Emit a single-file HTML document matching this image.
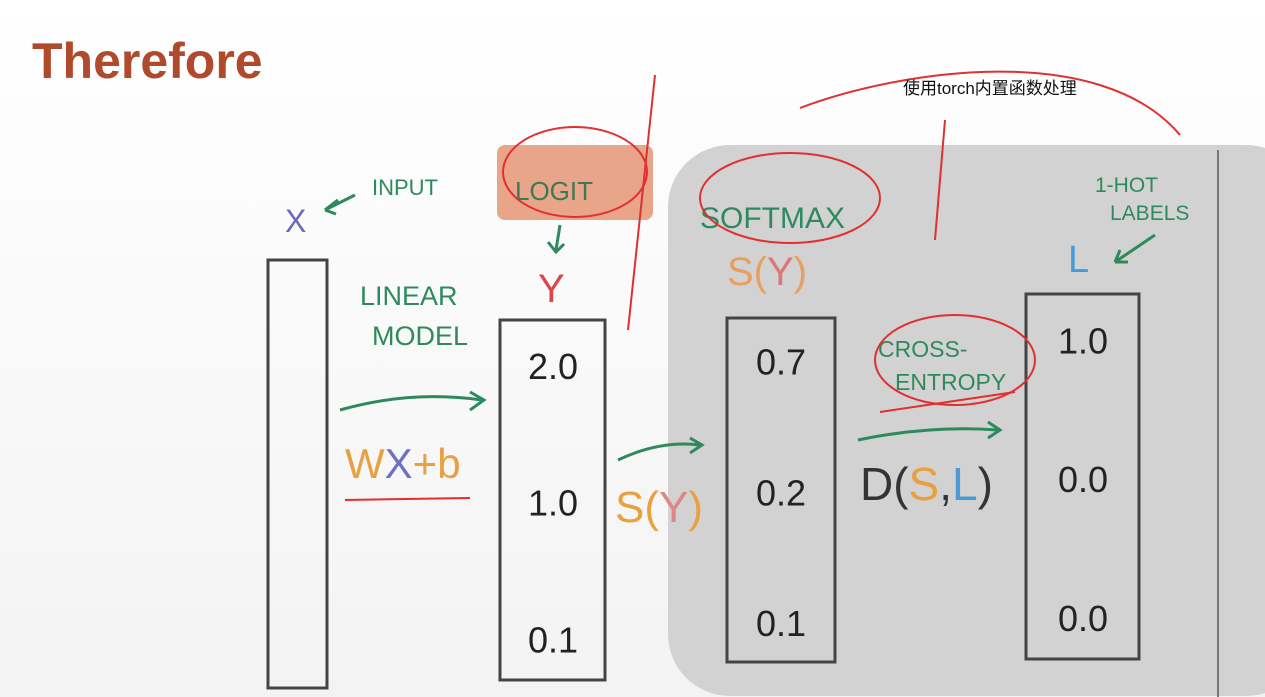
<!DOCTYPE html>
<html><head><meta charset="utf-8"><style>
html,body{margin:0;padding:0;width:1265px;height:697px;overflow:hidden;background:#fff}
svg{display:block;overflow:hidden}
.hw{font-family:"Liberation Sans","DejaVu Sans",sans-serif}
</style></head><body>
<svg id="s" width="1265" height="697" viewBox="0 0 1265 697" xmlns="http://www.w3.org/2000/svg">
<defs><linearGradient id="bg" x1="0" y1="0" x2="0" y2="1"><stop offset="0" stop-color="#ffffff"/><stop offset="1" stop-color="#f3f3f3"/></linearGradient>
<clipPath id="cp"><rect width="1265" height="697"/></clipPath></defs>
<g clip-path="url(#cp)">
<rect width="1265" height="697" fill="url(#bg)"/>
<text x="32" y="78" font-family="Liberation Sans,sans-serif" font-weight="bold" font-size="50" fill="#b04a2c">Therefore</text>
<rect x="668" y="145" width="640" height="551" rx="62" fill="#d2d2d2"/>
<line x1="1218" y1="150" x2="1218" y2="697" stroke="#777" stroke-width="2"/>
<rect x="497" y="145" width="156" height="75" rx="8" fill="#e9a58a"/>
<g fill="none" stroke="#444" stroke-width="3">
<rect x="268" y="260" width="59" height="428"/>
<rect x="500" y="320" width="105" height="360"/>
<rect x="727" y="318" width="108" height="344"/>
<rect x="1026" y="294" width="113" height="365"/>
</g>
<g class="hw" font-size="26" fill="#2e8a5e">
<text x="372" y="195" font-size="22">INPUT</text>
<text x="515" y="200" font-size="26" fill="#3a7a55">LOGIT</text>
<text x="360" y="305" font-size="27">LINEAR</text>
<text x="372" y="345" font-size="27">MODEL</text>
<text x="700" y="228" font-size="30">SOFTMAX</text>
<text x="878" y="357" font-size="23">CROSS-</text>
<text x="895" y="390" font-size="23">ENTROPY</text>
<text x="1095" y="192" font-size="21">1-HOT</text>
<text x="1110" y="220" font-size="21">LABELS</text>
</g>
<text x="285" y="232" class="hw" font-size="32" fill="#6a6ab8">X</text>
<text x="538" y="302" class="hw" font-size="40" fill="#d94848">Y</text>
<text x="727" y="285" class="hw" font-size="40" fill="#e8a060">S(<tspan fill="#d77">Y</tspan>)</text>
<text x="1068" y="272" class="hw" font-size="38" fill="#4a9ad8">L</text>
<text x="345" y="478" class="hw" font-size="42" fill="#e8a040">W<tspan fill="#7070c0">X</tspan>+b</text>
<text x="615" y="522" class="hw" font-size="44" fill="#e8a040">S(<tspan fill="#d88">Y</tspan>)</text>
<text x="860" y="500" class="hw" font-size="46" fill="#333">D(<tspan fill="#e8a040">S</tspan>,<tspan fill="#4a9ad8">L</tspan>)</text>
<g fill="none" stroke="#2e8a5e" stroke-width="3">
<path d="M340 410 Q410 390 482 400 M470 392 L484 400 L470 410"/>
<path d="M618 460 Q660 440 700 445 M690 438 L702 445 L690 453"/>
<path d="M858 440 Q930 425 998 430 M988 422 L1000 430 L988 438"/>
<path d="M325 210 L355 195 M325 210 L338 200 M325 210 L336 214"/>
<path d="M560 225 L556 250 M548 242 L556 252 L564 244"/>
<path d="M1155 235 L1115 262 M1115 262 L1128 262 M1115 262 L1120 250"/>
</g>
<g fill="none" stroke="#e03030" stroke-width="2">
<path d="M655 75 L628 330"/>
<path d="M945 120 L935 240"/>
<path d="M800 108 C900 70 1100 40 1180 135"/>
<ellipse cx="575" cy="172" rx="72" ry="45"/>
<ellipse cx="790" cy="198" rx="90" ry="45"/>
<ellipse cx="955" cy="360" rx="80" ry="45"/>
<path d="M345 500 L470 498 M880 412 L1015 392"/>
</g>
<text x="903" y="94" font-family="Liberation Sans,'Noto Sans CJK SC',sans-serif" font-size="17" fill="#111">使用torch内置函数处理</text>
<g id="vals" class="hw" fill="#222" font-size="36"></g>
</g>
<script>
const logits = [2.0, 1.0, 0.1];
const softmaxVals = [0.7, 0.2, 0.1];
const labels = [1.0, 0.0, 0.0];
function rowY(i, top, bottom){ return top + (bottom - top) * (0.13 + i * 0.38); }
const g = document.getElementById('vals');
function put(arr, cx, top, bottom){
  arr.forEach((v,i)=>{
    const t = document.createElementNS('http://www.w3.org/2000/svg','text');
    t.setAttribute('x', cx); t.setAttribute('y', rowY(i, top, bottom) + 12);
    t.setAttribute('text-anchor','middle');
    
    
    t.textContent = v.toFixed(1);
    g.appendChild(t);
  });
}
put(logits, 553, 320, 680);
put(softmaxVals, 781, 318, 662);
put(labels, 1083, 294, 659);
</script>
</svg>
</body></html>
